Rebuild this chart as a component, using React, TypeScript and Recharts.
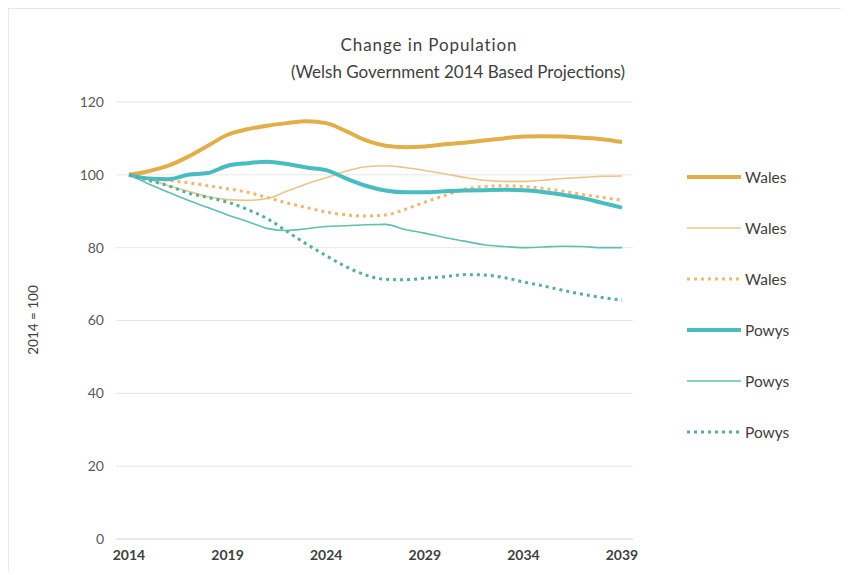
import React from 'react';
import { LineChart, Line, XAxis, YAxis, CartesianGrid, Legend } from 'recharts';

const years = [
  2014, 2015, 2016, 2017, 2018, 2019, 2020, 2021, 2022, 2023, 2024, 2025, 2026,
  2027, 2028, 2029, 2030, 2031, 2032, 2033, 2034, 2035, 2036, 2037, 2038, 2039,
];

const walesPrincipal = [
  100, 101, 102.5, 105, 108, 111, 112.5, 113.5, 114.2, 114.7, 114.2, 112, 109.5,
  108, 107.6, 107.8, 108.4, 108.8, 109.4, 110, 110.5, 110.6, 110.5, 110.2, 109.8, 109,
];
const walesHigh = [
  100, 98.8, 97, 95.5, 94, 93.2, 93, 93.5, 95.5, 97.5, 99.2, 101, 102.2,
  102.5, 102, 101.2, 100.3, 99.3, 98.5, 98.2, 98.2, 98.5, 99, 99.3, 99.6, 99.7,
];
const walesLow = [
  100, 99, 98.5, 97.8, 97, 96.2, 95.2, 93.8, 92.3, 91, 89.8, 89, 88.7,
  89, 90.5, 92.5, 94.3, 96, 96.8, 97, 96.8, 96.3, 95.5, 94.6, 93.8, 93,
];
const powysPrincipal = [
  100, 99, 98.8, 100, 100.5, 102.5, 103.2, 103.6, 103, 102, 101.3, 99, 97,
  95.7, 95.2, 95.2, 95.5, 95.7, 95.8, 95.9, 95.8, 95.3, 94.5, 93.6, 92.3, 91,
];
const powysHigh = [
  100, 97.5, 95.2, 93, 91, 89, 87.2, 85.3, 84.7, 85.2, 85.8, 86, 86.3,
  86.4, 85, 84, 82.8, 81.8, 80.8, 80.3, 80, 80.2, 80.4, 80.3, 80, 80,
];
const powysLow = [
  100, 98.5, 97, 95, 93.8, 92.5, 90.5, 88, 84.5, 81, 77.8, 74.8, 72.5,
  71.3, 71.2, 71.6, 72, 72.6, 72.5, 71.8, 70.6, 69.5, 68.3, 67.2, 66.3, 65.6,
];

const xTicks = [2014, 2019, 2024, 2029, 2034, 2039];
const yTicks = [0, 20, 40, 60, 80, 100, 120];

const data = years.map((year, i) => ({
  year,
  walesPrincipal: walesPrincipal[i],
  walesHigh: walesHigh[i],
  walesLow: walesLow[i],
  powysPrincipal: powysPrincipal[i],
  powysHigh: powysHigh[i],
  powysLow: powysLow[i],
}));

const series = [
  { key: 'walesPrincipal', name: 'Wales', color: '#E2AE48', width: 4, dash: undefined },
  { key: 'walesHigh', name: 'Wales', color: '#EBC38C', width: 1.6, dash: undefined },
  { key: 'walesLow', name: 'Wales', color: '#F0B676', width: 3, dash: '3 4' },
  { key: 'powysPrincipal', name: 'Powys', color: '#48BCC0', width: 4, dash: undefined },
  { key: 'powysHigh', name: 'Powys', color: '#5FC0AF', width: 1.6, dash: undefined },
  { key: 'powysLow', name: 'Powys', color: '#57AE99', width: 3, dash: '3 4' },
];

const FONT = 'Lato, "Open Sans", sans-serif';

// legend drawn by hand so the six entries sit exactly where Excel put them
const LegendBox = () => (
  <div style={{ position: 'relative', width: 120, height: 300 }}>
    {series.map((s, i) => (
      <div
        key={s.key}
        style={{ position: 'absolute', left: 0, top: i * 51, height: 20, display: 'flex', alignItems: 'center' }}
      >
        <svg width={56} height={10}>
          <line
            x1={1}
            y1={5}
            x2={55}
            y2={5}
            stroke={s.color}
            strokeWidth={s.width}
            strokeDasharray={s.dash}
          />
        </svg>
        <span style={{ marginLeft: 3, fontSize: 15.5, color: '#404040', fontFamily: FONT }}>{s.name}</span>
      </div>
    ))}
  </div>
);

const App: React.FC = () => {
  return (
    <div
      style={{
        position: 'relative',
        width: 835,
        height: 562,
        borderTop: '1px solid #E8E8E8',
        borderLeft: '1px solid #E8E8E8',
        background: '#fff',
        fontFamily: FONT,
      }}
    >
      <div style={{ position: 'absolute', left: 420, top: 25, transform: 'translateX(-50%)', fontSize: 17, letterSpacing: 0.9, color: '#404040', whiteSpace: 'nowrap' }}>
        Change in Population
      </div>
      <div style={{ position: 'absolute', left: 449, top: 52, transform: 'translateX(-50%)', fontSize: 17, color: '#404040', whiteSpace: 'nowrap' }}>
        (Welsh Government 2014 Based Projections)
      </div>
      <div
        style={{
          position: 'absolute',
          left: 24,
          top: 311,
          transform: 'translate(-50%, -50%) rotate(-90deg)',
          fontSize: 13.5,
          color: '#404040',
          whiteSpace: 'nowrap',
        }}
      >
        2014 = 100
      </div>
      <LineChart width={835} height={562} data={data} margin={{ top: 93, right: 211, bottom: 7, left: 47 }}>
        <CartesianGrid vertical={false} stroke="#E6E6E6" strokeWidth={1} />
        <XAxis
          dataKey="year"
          type="number"
          domain={[2014, 2039]}
          ticks={xTicks}
          padding={{ left: 13, right: 11 }}
          axisLine={{ stroke: '#E0E0E0' }}
          tickLine={false}
          tickSize={0}
          tickMargin={11}
          height={25}
          tick={{ fontSize: 14, fill: '#404040', fontFamily: FONT, fontWeight: 700 }}
        />
        <YAxis
          domain={[0, 120]}
          ticks={yTicks}
          axisLine={false}
          tickLine={false}
          tickSize={0}
          tickMargin={12}
          width={60}
          tick={{ fontSize: 14, fill: '#595959', fontFamily: FONT }}
        />
        {series.map((s) => (
          <Line
            key={s.key}
            type="monotone"
            dataKey={s.key}
            name={s.name}
            stroke={s.color}
            strokeWidth={s.width}
            strokeDasharray={s.dash}
            dot={false}
            activeDot={false}
            isAnimationActive={false}
          />
        ))}
        <Legend
          layout="horizontal"
          verticalAlign="middle"
          align="center"
          content={() => <LegendBox />}
          wrapperStyle={{ left: 677, top: 158, width: 130 }}
        />
      </LineChart>
    </div>
  );
};

export default App;
